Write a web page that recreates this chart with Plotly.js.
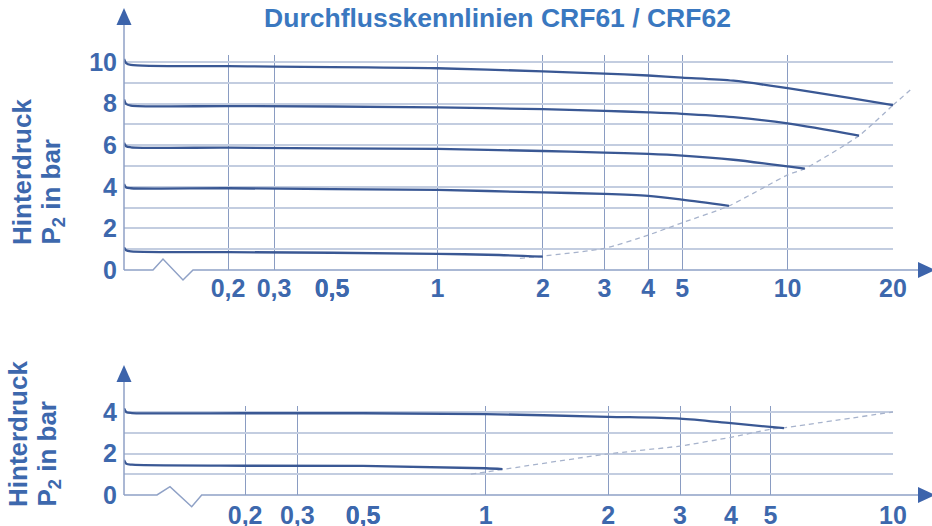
<!DOCTYPE html>
<html><head><meta charset="utf-8">
<script src="https://cdn.plot.ly/plotly-3.0.1.min.js"></script>
<style>html,body{margin:0;padding:0;background:#fff;}#chart{width:932px;height:526px;}</style>
</head><body><div id="chart"></div>
<script>
// ===== DATA =====
// Top chart: flow (x) vs. outlet pressure P2 in bar (y)
const topTickVals = [0.2, 0.3, 0.5, 1, 2, 3, 4, 5, 10, 20];
const topTickText = ['0,2', '0,3', '0,5', '1', '2', '3', '4', '5', '10', '20'];
const topP10x = [0.08, 0.0815, 0.085, 0.2, 0.3, 0.5, 1, 2, 3, 4, 5, 7, 10, 15, 20];
const topP10y = [10.15, 9.95, 9.86, 9.8, 9.78, 9.75, 9.7, 9.55, 9.44, 9.35, 9.25, 9.1, 8.74, 8.28, 7.93];
const topP8x = [0.08, 0.0815, 0.085, 0.2, 0.5, 1, 2, 3, 4, 5, 7, 10, 16];
const topP8y = [8.2, 7.98, 7.9, 7.88, 7.86, 7.82, 7.73, 7.65, 7.58, 7.51, 7.35, 7.05, 6.46];
const topP6x = [0.08, 0.0815, 0.085, 0.2, 0.5, 1, 2, 3, 4, 5, 7, 10, 11.2];
const topP6y = [6.12, 5.95, 5.9, 5.88, 5.85, 5.82, 5.72, 5.64, 5.58, 5.5, 5.3, 4.98, 4.87];
const topP4x = [0.08, 0.0815, 0.085, 0.2, 0.5, 1, 2, 3, 4, 5, 6.8];
const topP4y = [4.13, 3.97, 3.93, 3.93, 3.89, 3.85, 3.73, 3.66, 3.56, 3.38, 3.08];
const topP1x = [0.08, 0.0815, 0.085, 0.2, 0.5, 1, 1.5, 2];
const topP1y = [1.09, 0.95, 0.9, 0.86, 0.83, 0.78, 0.72, 0.64];
const topLimitX = [1.72, 2, 3, 4, 5, 6.8, 10, 11.2, 16, 20, 22.4];
const topLimitY = [0.56, 0.67, 1.04, 1.68, 2.27, 3.08, 4.57, 4.87, 6.46, 7.93, 8.65];
const topYTickVals = [0, 1, 2, 3, 4, 5, 6, 7, 8, 9, 10];
const topYTickText = ['0', '', '2', '', '4', '', '6', '', '8', '', '10'];

// Bottom chart
const botTickVals = [0.2, 0.3, 0.5, 1, 2, 3, 4, 5, 10];
const botTickText = ['0,2', '0,3', '0,5', '1', '2', '3', '4', '5', '10'];
const botP4x = [0.078, 0.0795, 0.083, 0.2, 0.5, 1, 2, 3, 4, 5.4];
const botP4y = [4.18, 3.99, 3.95, 3.94, 3.94, 3.9, 3.77, 3.68, 3.46, 3.22];
const botP15x = [0.078, 0.0795, 0.083, 0.2, 0.5, 1, 1.1];
const botP15y = [1.69, 1.5, 1.46, 1.41, 1.4, 1.29, 1.25];
const botLimitX = [0.92, 1, 2, 3, 4, 5, 5.4, 10];
const botLimitY = [1.01, 1.11, 1.98, 2.36, 2.78, 3.17, 3.24, 4.0];
const botYTickVals = [0, 1, 2, 3, 4];
const botYTickText = ['0', '', '2', '', '4'];

// ===== STYLE / LAYOUT =====
const W = 932, H = 526;
const curveColor = '#3a5894', limitColor = '#a7b3cc';
const labelColor = '#3d68ad', titleColor = '#3a78c0';
const vGrid = '#8a9cc2', hGrid = '#c3cde0', axisCol = '#8fa1c6', arrowCol = '#3d64ab';
const FONT = 'Liberation Sans, Arial, sans-serif';
const tickFont = {family: FONT, size: 25, color: labelColor, weight: 700};

const px = v => v / W;           // horizontal pixel -> paper
const py = v => 1 - v / H;       // vertical pixel -> paper

// top panel geometry
const tLeft = 124, tBreak = 332, tRight = 893, tZero = 270, tPerBar = 20.8;
const tLo = 0.08, tMid = 0.5, tHi = 20;
const tPerDecR = (tRight - tBreak) / Math.log10(tHi / tMid);
const tExtHi = tHi * Math.pow(10, (W - tRight) / tPerDecR);
const tYMax = 10.35;
// bottom panel geometry
const bLeft = 124, bBreak = 363, bRight = 893, bZero = 495, bPerBar = 20.75;
const bLo = 0.078, bMid = 0.5, bHi = 10;
const bYMax = 4.3;

const tYDom = [py(tZero), py(tZero - tYMax * tPerBar)];
const bYDom = [py(bZero), py(bZero - bYMax * bPerBar)];

const segTop = [[tLo, tMid, 'x', 'y'], [tMid, tHi, 'x2', 'y'], [tHi, tExtHi, 'x3', 'y2']];
const segBot = [[bLo, bMid, 'x4', 'y3'], [bMid, bHi, 'x5', 'y3']];

function split(xs, ys, segs, style) {
  const out = [];
  segs.forEach(s => {
    const sx = [], sy = [];
    xs.forEach((x, i) => { if (x >= s[0] - 1e-9 && x <= s[1] + 1e-9) { sx.push(x); sy.push(ys[i]); } });
    if (sx.length > 1) out.push(Object.assign({type: 'scatter', mode: 'lines', x: sx, y: sy,
      xaxis: s[2], yaxis: s[3], hoverinfo: 'skip', showlegend: false}, style));
  });
  return out;
}
const solid = {line: {color: curveColor, width: 2.3, shape: 'spline', smoothing: 0.8}};
const dashed = {line: {color: limitColor, width: 1.3, dash: '5px,4px', shape: 'spline', smoothing: 0.6}};

const traces = [].concat(
  split(topLimitX, topLimitY, segTop, dashed),
  split(topP10x, topP10y, segTop, solid),
  split(topP8x, topP8y, segTop, solid),
  split(topP6x, topP6y, segTop, solid),
  split(topP4x, topP4y, segTop, solid),
  split(topP1x, topP1y, segTop, solid),
  split(botLimitX, botLimitY, segBot, dashed),
  split(botP4x, botP4y, segBot, solid),
  split(botP15x, botP15y, segBot, solid)
);

function xAx(lo, hi, d0, d1, anchor, tv, tt, standoff) {
  const inR = tv.map((v, i) => [v, tt[i]]).filter(p => p[0] >= lo - 1e-9 && p[0] <= hi + 1e-9);
  return {type: 'log', range: [Math.log10(lo), Math.log10(hi)], domain: [px(d0), px(d1)], anchor: anchor,
    tickmode: 'array', tickvals: inR.map(p => p[0]), ticktext: inR.map(p => p[1]),
    showgrid: true, gridcolor: vGrid, gridwidth: 1, zeroline: false, showline: false, ticks: '',
    tickfont: tickFont, ticklabelstandoff: standoff, fixedrange: true};
}
function yAx(max, dom, anchor, tv, tt) {
  return {range: [0, max], domain: dom, anchor: anchor, tickmode: 'array', tickvals: tv, ticktext: tt,
    showgrid: true, gridcolor: hGrid, gridwidth: 2, zeroline: false, showline: false, ticks: '',
    tickfont: tickFont, ticklabelstandoff: 6, fixedrange: true};
}

const layout = {
  width: W, height: H, margin: {l: 0, r: 0, t: 0, b: 0, pad: 0},
  paper_bgcolor: '#fff', plot_bgcolor: 'rgba(0,0,0,0)', showlegend: false,
  title: {text: 'Durchflusskennlinien CRF61 / CRF62', x: px(497.5), xref: 'paper', xanchor: 'center',
    y: py(18), yref: 'container', yanchor: 'middle',
    font: {family: FONT, size: 26.5, color: titleColor, weight: 700}},
  xaxis: xAx(tLo, tMid, tLeft, tBreak, 'y', topTickVals, topTickText, 1),
  xaxis2: xAx(tMid, tHi, tBreak, tRight, 'y', topTickVals, topTickText, 1),
  xaxis3: Object.assign(xAx(tHi, tExtHi, tRight, W, 'y2', [], [], 1), {visible: false, showgrid: false}),
  yaxis: yAx(tYMax, tYDom, 'x', topYTickVals, topYTickText),
  yaxis2: {matches: 'y', range: [0, tYMax], domain: tYDom, anchor: 'x3', visible: false, showgrid: false, fixedrange: true},
  xaxis4: xAx(bLo, bMid, bLeft, bBreak, 'y3', botTickVals, botTickText, 3),
  xaxis5: xAx(bMid, bHi, bBreak, bRight, 'y3', botTickVals, botTickText, 3),
  yaxis3: yAx(bYMax, bYDom, 'x4', botYTickVals, botYTickText),
  shapes: [],
  annotations: []
};

const S = layout.shapes;
const pathOf = pts => pts.map((p, i) => (i ? 'L' : 'M') + px(p[0]).toFixed(5) + ',' + py(p[1]).toFixed(5)).join(' ');
function panelDeco(zeroY, topArrowY, brk) {
  // hide grid overshoot above top gridline
  S.push({type: 'rect', xref: 'paper', yref: 'paper', layer: 'between', x0: px(125), x1: px(900),
    y0: py(zeroY - 300), y1: py(topArrowY[2]), fillcolor: '#fff', line: {width: 0}});
  // hide zero grid line in the axis break
  S.push({type: 'rect', xref: 'paper', yref: 'paper', layer: 'above', x0: px(brk[0][0] + 0.5), x1: px(brk[3][0]),
    y0: py(zeroY + 3), y1: py(zeroY - 2.5), fillcolor: '#fff', line: {width: 0}});
  // y axis line
  S.push({type: 'path', xref: 'paper', yref: 'paper', layer: 'above',
    path: pathOf([[124, topArrowY[1]], [124, zeroY]]), line: {color: axisCol, width: 1.5}});
  // x axis with break
  S.push({type: 'path', xref: 'paper', yref: 'paper', layer: 'above',
    path: pathOf([[124, zeroY]].concat(brk).concat([[919, zeroY]])), line: {color: axisCol, width: 1.5}});
  // arrows
  S.push({type: 'path', xref: 'paper', yref: 'paper', layer: 'above',
    path: pathOf([[124, topArrowY[0]], [131.5, topArrowY[1]], [116.5, topArrowY[1]]]) + ' Z',
    fillcolor: arrowCol, line: {width: 0}});
  S.push({type: 'path', xref: 'paper', yref: 'paper', layer: 'above',
    path: pathOf([[935, zeroY], [918, zeroY - 8], [918, zeroY + 8]]) + ' Z',
    fillcolor: arrowCol, line: {width: 0}});
}
panelDeco(tZero, [8, 25, 60.8], [[153, 270], [163, 259], [183, 280], [193, 270]]);
panelDeco(bZero, [365, 382, 410.8], [[157, 495], [170, 486.7], [191.7, 506.7], [201.7, 495]]);

const A = layout.annotations;
function ylab(text, cx, bottom) {
  A.push({text: text, xref: 'paper', yref: 'paper', x: px(cx), y: py(bottom), xanchor: 'center', yanchor: 'bottom',
    textangle: -90, showarrow: false, font: {family: FONT, size: 26, color: labelColor, weight: 700}});
}
ylab('Hinterdruck', 22, 247);
ylab('P<sub>2</sub> in bar', 52, 247);
ylab('Hinterdruck', 18, 509);
ylab('P<sub>2</sub> in bar', 48, 509);

Plotly.newPlot('chart', traces, layout, {displayModeBar: false, staticPlot: true});
</script></body></html>
